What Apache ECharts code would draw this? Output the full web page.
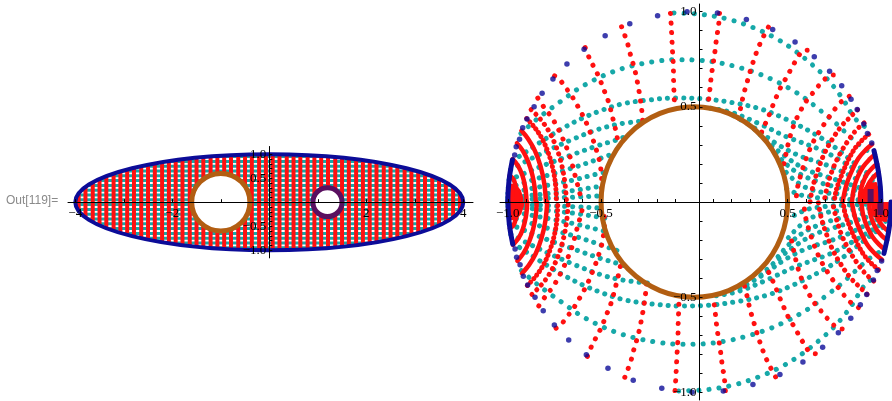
<!DOCTYPE html>
<html><head><meta charset="utf-8">
<script src="https://cdn.jsdelivr.net/npm/echarts@6/dist/echarts.min.js"></script>
<style>html,body{margin:0;padding:0;background:#fff}#c{width:892px;height:401px}</style>
</head><body><div id="c"></div><script>
// ---------- LEFT PLOT (z-plane) ----------
const leftRedX = [-3.93,-3.79,-3.64,-3.5,-3.36,-3.21,-3.07,-2.93,-2.79,-2.64,-2.5,-2.36,-2.21,-2.07,-1.93,-1.79,-1.64,-1.5,-1.36,-1.21,-1.07,-0.93,-0.79,-0.64,-0.5,-0.36,-0.21,-0.07,0.07,0.21,0.36,0.5,0.64,0.79,0.93,1.07,1.21,1.36,1.5,1.64,1.79,1.93,2.07,2.21,2.36,2.5,2.64,2.79,2.93,3.07,3.21,3.36,3.5,3.64,3.79,3.93];
const leftTealY = [-0.95,-0.85,-0.75,-0.65,-0.55,-0.45,-0.35,-0.25,-0.15,-0.05,0.05,0.15,0.25,0.35,0.45,0.55,0.65,0.75,0.85,0.95];
const zEllipse = [0, 0, 4, 1];
const zHoles = [[-1, 0, 0.6], [1.2, 0, 0.3]];
const leftXTicks = [-4,-3,-2,-1,1,2,3,4];
const leftXLabels = [-4,-2,2,4];
const leftYTicks = [-1,-0.9,-0.8,-0.7,-0.6,-0.5,-0.4,-0.3,-0.2,-0.1,0.1,0.2,0.3,0.4,0.5,0.6,0.7,0.8,0.9,1];
const leftYLabels = [-1,-0.5,0.5,1];

// ---------- RIGHT PLOT (w-plane), upper half; lower half is drawn mirrored ----------
const wBrown = [0, 0, 0.5];
const rightTicks = [-1,-0.9,-0.8,-0.7,-0.6,-0.5,-0.4,-0.3,-0.2,-0.1,0.1,0.2,0.3,0.4,0.5,0.6,0.7,0.8,0.9,1];
const rightLabels = [-1,-0.5,0.5,1];

const tealSparse = [
  [[-0.109,0.992],[0.038,0.985],[0.184,0.959],[0.317,0.915],[0.438,0.859],[0.540,0.794],[0.628,0.724],[0.701,0.658],[0.758,0.592],[0.805,0.527],[0.847,0.457],[0.88,0.42],[0.915,0.395]],
  [[-0.93,0.36],[-0.85,0.43],[-0.77,0.49],[-0.701,0.539],[-0.626,0.592],[-0.540,0.639],[-0.444,0.681],[-0.336,0.714],[-0.221,0.736],[-0.103,0.747],[0.015,0.745],[0.137,0.730],[0.248,0.704],[0.351,0.671],[0.445,0.630],[0.529,0.585],[0.6,0.539],[0.67,0.485],[0.74,0.43],[0.8,0.375],[0.86,0.32],[0.91,0.28],[0.965,0.25]]
];
const tealMedium = [
  [[-0.975,0.215],[-0.9,0.265],[-0.78,0.343],[-0.7,0.39],[-0.6,0.44],[-0.5,0.48],[-0.391,0.514],[-0.25,0.535],[-0.097,0.546],[0.057,0.541],[0.207,0.521],[0.35,0.49],[0.48,0.44],[0.638,0.361],[0.75,0.29],[0.85,0.21],[0.93,0.15],[0.985,0.12]],
  [[-0.985,0.17],[-0.9,0.215],[-0.78,0.273],[-0.65,0.33],[-0.52,0.38],[-0.4,0.41],[-0.27,0.425]],
  [[-0.993,0.115],[-0.9,0.155],[-0.78,0.203],[-0.65,0.25],[-0.52,0.295],[-0.42,0.325],[-0.36,0.347]],
  [[-0.997,0.075],[-0.9,0.105],[-0.78,0.142],[-0.65,0.18],[-0.53,0.22],[-0.43,0.255]],
  [[-0.999,0.045],[-0.9,0.065],[-0.78,0.089],[-0.65,0.115],[-0.55,0.14],[-0.475,0.157]],
  [[-1,0.022],[-0.9,0.032],[-0.78,0.045],[-0.65,0.06],[-0.55,0.075],[-0.493,0.085]],
  [[-1,0.008],[-0.9,0.013],[-0.78,0.02],[-0.65,0.025],[-0.55,0.03],[-0.499,0.032]],
  [[0.087,0.492],[0.2,0.47],[0.35,0.41],[0.5,0.34],[0.68,0.273],[0.78,0.22],[0.88,0.16],[0.95,0.115],[0.99,0.09]],
  [[0.211,0.453],[0.32,0.39],[0.45,0.3],[0.57,0.24],[0.68,0.205],[0.78,0.165],[0.87,0.12],[0.94,0.085],[0.985,0.06]],
  [[0.321,0.383],[0.4,0.31],[0.5,0.23],[0.6,0.17],[0.68,0.142],[0.78,0.11],[0.87,0.08],[0.94,0.055],[0.98,0.04]],
  [[0.41,0.287],[0.48,0.21],[0.56,0.15],[0.68,0.1],[0.78,0.075],[0.88,0.058],[0.945,0.05]],
  [[0.464,0.187],[0.53,0.12],[0.6,0.075],[0.68,0.052],[0.78,0.042],[0.88,0.035],[0.94,0.03]],
  [[0.495,0.07],[0.56,0.04],[0.62,0.028],[0.68,0.021],[0.8,0.015],[0.94,0.01]]
];
const redSparse = [
  [[-0.128,0.99],[-0.125,0.946],[-0.121,0.873],[-0.118,0.808],[-0.114,0.744],[-0.112,0.686],[-0.111,0.627],[-0.109,0.574],[-0.107,0.521],[-0.105,0.49]],
  [[-0.39,0.92],[-0.359,0.836],[-0.343,0.775],[-0.326,0.718],[-0.312,0.663],[-0.302,0.611],[-0.293,0.562],[-0.286,0.514],[-0.28,0.465],[-0.276,0.417]],
  [[-0.585,0.81],[-0.561,0.751],[-0.535,0.702],[-0.511,0.655],[-0.492,0.607],[-0.474,0.562],[-0.458,0.52],[-0.445,0.47],[-0.432,0.42],[-0.42,0.37],[-0.41,0.32],[-0.405,0.293]],
  [[-0.749,0.662],[-0.72,0.64],[-0.692,0.602],[-0.662,0.565],[-0.64,0.527],[-0.615,0.486],[-0.592,0.442],[-0.571,0.398],[-0.554,0.354],[-0.537,0.31],[-0.523,0.266],[-0.51,0.222],[-0.502,0.178],[-0.497,0.134],[-0.497,0.09],[-0.5,0.04]],
  [[0.135,0.99],[0.130,0.928],[0.119,0.859],[0.111,0.794],[0.102,0.733],[0.093,0.675],[0.086,0.619],[0.081,0.568],[0.074,0.52],[0.07,0.495]],
  [[0.397,0.918],[0.363,0.854],[0.338,0.798],[0.317,0.740],[0.300,0.688],[0.285,0.637],[0.270,0.586],[0.258,0.539],[0.245,0.48],[0.235,0.441]],
  [[0.605,0.796],[0.582,0.794],[0.549,0.749],[0.520,0.702],[0.499,0.661],[0.471,0.618],[0.450,0.574],[0.432,0.534],[0.41,0.48],[0.39,0.43],[0.37,0.39],[0.355,0.352]],
  [[0.745,0.667],[0.72,0.663],[0.687,0.631],[0.657,0.6],[0.629,0.565],[0.603,0.534],[0.57,0.48],[0.54,0.42],[0.515,0.35],[0.495,0.27],[0.48,0.2],[0.47,0.17]],
  [[-0.839,0.545],[-0.798,0.486],[-0.763,0.442],[-0.711,0.345],[-0.667,0.239],[-0.638,0.134],[-0.615,0.05],[-0.605,0]],
  [[0.83,0.555],[0.814,0.542],[0.784,0.523],[0.74,0.47],[0.69,0.4],[0.64,0.32],[0.6,0.23],[0.57,0.14],[0.552,0.07],[0.545,0]]
];
const redMedium = [
  [[-0.875,0.485],[-0.83,0.44],[-0.785,0.38],[-0.745,0.3],[-0.715,0.21],[-0.695,0.11],[-0.685,0]],
  [[0.875,0.484],[0.84,0.45],[0.79,0.4],[0.74,0.33],[0.695,0.25],[0.66,0.16],[0.635,0.08],[0.62,0]],
  [[0.91,0.415],[0.87,0.38],[0.83,0.33],[0.785,0.26],[0.745,0.18],[0.715,0.09],[0.695,0]]
];
const redDense = [
  [[-0.899,0.438],[-0.855,0.39],[-0.815,0.33],[-0.78,0.25],[-0.755,0.16],[-0.743,0.08],[-0.74,0]],
  [[0.935,0.355],[0.9,0.325],[0.86,0.28],[0.82,0.21],[0.785,0.13],[0.76,0.06],[0.75,0]]
];
const redSolid = [
  [[-0.927,0.375],[-0.89,0.33],[-0.855,0.27],[-0.825,0.19],[-0.805,0.1],[-0.795,0]],
  [[-0.951,0.309],[-0.92,0.27],[-0.89,0.21],[-0.868,0.14],[-0.855,0.07],[-0.85,0]],
  [[-0.974,0.225],[-0.945,0.19],[-0.922,0.14],[-0.907,0.08],[-0.901,0.03],[-0.9,0]],
  [[-0.99,0.139],[-0.97,0.12],[-0.957,0.08],[-0.951,0.04],[-0.95,0]],
  [[0.953,0.303],[0.92,0.275],[0.88,0.23],[0.845,0.165],[0.815,0.09],[0.795,0]],
  [[0.968,0.25],[0.94,0.225],[0.905,0.185],[0.875,0.13],[0.855,0.07],[0.845,0]],
  [[0.98,0.2],[0.955,0.18],[0.925,0.145],[0.903,0.1],[0.89,0.05],[0.887,0]],
  [[0.988,0.155],[0.965,0.135],[0.94,0.105],[0.924,0.07],[0.917,0.035],[0.916,0]]
];
const redFill = [
  [[-0.99,0],[-0.99,0.09],[-0.96,0.09],[-0.935,0.06],[-0.922,0.02],[-0.922,0]],
  [[0.9,0],[0.905,0.06],[0.93,0.095],[0.975,0.1],[0.985,0.05],[0.985,0]]
];
const blueDots = [[-0.039,0.999],[-0.197,0.978],[-0.346,0.936],[-0.478,0.873],[-0.591,0.802],[-0.683,0.724],[-0.758,0.646],[-0.816,0.571],[-0.859,0.5],[-0.897,0.436],[-0.92,0.39],[-0.937,0.329],[-0.955,0.29],[-0.963,0.247],
  [0.124,0.992],[0.279,0.958],[0.420,0.906],[0.540,0.84],[0.643,0.763],[0.725,0.686],[0.790,0.61],[0.840,0.54],[0.873,0.486],[0.908,0.41],[0.928,0.36],[0.951,0.31]];
const blueSolid = [
  [[-0.975,0.222],[-0.99,0.14],[-0.998,0.06],[-1,0]],
  [[0.963,0.27],[0.985,0.17],[0.997,0.08],[1,0]]
];
const purpleSlit = [[0.945,0],[0.945,0.068]];

// ---------- styling / rendering ----------
const RED = '#ff1010', TEAL = '#16a8a8', BLUE = '#0c0c98', BROWN = '#b25e12', PURPLE = '#5a1060';
const SERIF = '"Liberation Serif","DejaVu Serif",serif';
const minus = s => String(s).replace('-', '\u2212');

const G = [
  { left: 68, top: 146.5, width: 405, height: 111.4, xr: [-4.15, 4.2], yr: [-1.16, 1.16] },
  { left: 500, top: 4, width: 392, height: 396, xr: [-1.0418, 1.0052], yr: [-1.0394, 1.0394] }
];
// pixel offsets that move each axis from the grid edge onto the zero line of the other axis
function zeroOffsets(g) {
  const x0 = g.left + g.width * (0 - g.xr[0]) / (g.xr[1] - g.xr[0]);
  const y0 = g.top + g.height * (g.yr[1] - 0) / (g.yr[1] - g.yr[0]);
  return { xOff: -(g.top + g.height - y0), yOff: -(x0 - g.left) };
}

function ellipsePath(cx, cy, rx, ry, sweep) {
  return 'M' + (cx - rx) + ' ' + cy + ' A' + rx + ' ' + ry + ' 0 1 ' + sweep + ' ' + (cx + rx) + ' ' + cy +
         ' A' + rx + ' ' + ry + ' 0 1 ' + sweep + ' ' + (cx - rx) + ' ' + cy + ' Z';
}

function axisPair(gi, xTicks, xLabs, yTicks, yLabs, xFmt, yFmt) {
  const g = G[gi], off = zeroOffsets(g);
  const common = { type: 'value', gridIndex: gi, z: 10, splitLine: { show: false },
    axisLine: { show: true, onZero: false, lineStyle: { color: '#000', width: 1 } } };
  return [
    Object.assign({}, common, { min: g.xr[0], max: g.xr[1], position: 'bottom', offset: off.xOff,
      axisTick: { show: true, inside: true, length: 3, customValues: xTicks, lineStyle: { color: '#000' } },
      axisLabel: { customValues: xLabs, formatter: xFmt, fontFamily: SERIF, fontSize: 13, color: '#000', margin: 5 } }),
    Object.assign({}, common, { min: g.yr[0], max: g.yr[1], position: 'left', offset: off.yOff,
      axisTick: { show: true, inside: true, length: 3, customValues: yTicks, lineStyle: { color: '#000' } },
      axisLabel: { customValues: yLabs, formatter: yFmt, fontFamily: SERIF, fontSize: 13, color: '#000', margin: 3 } })
  ];
}

const L = axisPair(0, leftXTicks, leftXLabels, leftYTicks, leftYLabels,
  v => minus(Math.round(v)), v => minus(v.toFixed(1)));
const R = axisPair(1, rightTicks, rightLabels, rightTicks, rightLabels,
  v => minus(v.toFixed(1)), v => minus(v.toFixed(1)));
const hiddenX = { type: 'value', gridIndex: 2, min: G[1].xr[0], max: G[1].xr[1], show: false };
const hiddenY = { type: 'value', gridIndex: 2, min: G[1].yr[0], max: G[1].yr[1], inverse: true, show: false };

const series = [];

// left: teal horizontal lines
series.push({ type: 'custom', xAxisIndex: 0, yAxisIndex: 0, z: 1, silent: true,
  data: leftTealY.map(y => [0, y]),
  renderItem: (p, api) => {
    const y = api.value(1), a = api.coord([-4.1, y]), b = api.coord([4.1, y]);
    return { type: 'line', shape: { x1: a[0], y1: a[1], x2: b[0], y2: b[1] }, style: { stroke: TEAL, lineWidth: 3 } };
  } });
// left: red vertical lines
series.push({ type: 'custom', xAxisIndex: 0, yAxisIndex: 0, z: 2, silent: true,
  data: leftRedX.map(x => [x, 0]),
  renderItem: (p, api) => {
    const x = api.value(0), a = api.coord([x, -1.05]), b = api.coord([x, 1.05]);
    return { type: 'line', shape: { x1: a[0], y1: a[1], x2: b[0], y2: b[1] }, style: { stroke: RED, lineWidth: 4 } };
  } });
// left: mask outside ellipse + ellipse border
series.push({ type: 'custom', xAxisIndex: 0, yAxisIndex: 0, z: 3, silent: true,
  data: [[zEllipse[0], zEllipse[1]]],
  renderItem: (p, api) => {
    const cs = p.coordSys, c = api.coord([zEllipse[0], zEllipse[1]]);
    const rx = api.size([zEllipse[2], 0])[0], ry = api.size([0, zEllipse[3]])[1];
    const x0 = cs.x, y0 = cs.y, x1 = cs.x + cs.width, y1 = cs.y + cs.height;
    const mask = 'M' + x0 + ' ' + y0 + ' L' + x1 + ' ' + y0 + ' L' + x1 + ' ' + y1 + ' L' + x0 + ' ' + y1 + ' Z ' +
                 ellipsePath(c[0], c[1], rx, ry, 0);
    return { type: 'group', children: [
      { type: 'path', shape: { pathData: mask }, style: { fill: '#fff', stroke: null } },
      { type: 'path', shape: { pathData: ellipsePath(c[0], c[1], rx, ry, 1) },
        style: { fill: null, stroke: BLUE, lineWidth: 4 } }
    ] };
  } });
// left: holes
series.push({ type: 'custom', xAxisIndex: 0, yAxisIndex: 0, z: 5, silent: true,
  data: zHoles,
  renderItem: (p, api) => {
    const c = api.coord([api.value(0), api.value(1)]), r = api.value(2);
    const rx = api.size([r, 0])[0], ry = api.size([0, r])[1];
    return { type: 'path', shape: { pathData: ellipsePath(c[0], c[1], rx, ry, 1) },
      style: { fill: '#fff', stroke: p.dataIndex === 0 ? BROWN : PURPLE, lineWidth: 5 } };
  } });

// right: curves, drawn twice (grid 1 normal, grid 2 mirrored through inverse y axis)
function addCurves(list, color, width, dash, z) {
  [1, 2].forEach(g => list.forEach(d => series.push({
    type: 'line', xAxisIndex: g, yAxisIndex: g, data: d, smooth: 0.35, symbol: 'none', silent: true, z: z,
    lineStyle: { color: color, width: width, type: dash, cap: 'round', join: 'round' }
  })));
}
addCurves(tealSparse, TEAL, 5, [0.1, 10], 2);
addCurves(tealMedium, TEAL, 5, [0.1, 8], 2);
addCurves(redSparse, RED, 5, [0.1, 9.5], 3);
addCurves(redMedium, RED, 5, [0.1, 6.5], 3);
addCurves(redDense, RED, 5, [0.1, 4.5], 3);
addCurves(redSolid, RED, 4.5, 'solid', 3);
[1, 2].forEach(g => {
  redFill.forEach(d => series.push({ type: 'line', xAxisIndex: g, yAxisIndex: g, data: d, symbol: 'none', silent: true, z: 3,
    lineStyle: { color: RED, width: 2 }, areaStyle: { color: RED, opacity: 1, origin: 0 } }));
  series.push({ type: 'scatter', xAxisIndex: g, yAxisIndex: g, data: blueDots, symbolSize: 5.5, silent: true, z: 4,
    itemStyle: { color: BLUE } });
  blueSolid.forEach(d => series.push({ type: 'line', xAxisIndex: g, yAxisIndex: g, data: d, smooth: 0.3, symbol: 'none', silent: true, z: 4,
    lineStyle: { color: BLUE, width: 5, cap: 'round' } }));
  series.push({ type: 'line', xAxisIndex: g, yAxisIndex: g, data: purpleSlit, symbol: 'none', silent: true, z: 6,
    lineStyle: { color: PURPLE, width: 6 } });
});
series.push({ type: 'custom', xAxisIndex: 1, yAxisIndex: 1, z: 6, silent: true,
  data: [wBrown],
  renderItem: (p, api) => {
    const c = api.coord([api.value(0), api.value(1)]), r = api.value(2);
    const rx = api.size([r, 0])[0], ry = api.size([0, r])[1];
    return { type: 'path', shape: { pathData: ellipsePath(c[0], c[1], rx, ry, 1) },
      style: { fill: null, stroke: BROWN, lineWidth: 5 } };
  } });

const chart = echarts.init(document.getElementById('c'), null, { renderer: 'canvas', width: 892, height: 401 });
chart.setOption({
  animation: false,
  backgroundColor: '#fff',
  grid: [
    { left: G[0].left, top: G[0].top, width: G[0].width, height: G[0].height },
    { left: G[1].left, top: G[1].top, width: G[1].width, height: G[1].height },
    { left: G[1].left, top: G[1].top, width: G[1].width, height: G[1].height }
  ],
  xAxis: [L[0], R[0], hiddenX],
  yAxis: [L[1], R[1], hiddenY],
  graphic: [{ type: 'text', left: 6, top: 195, style: { text: 'Out[119]=', fill: '#8a8a8a', font: '12px "Liberation Sans", Arial, sans-serif' } }],
  series: series
});
</script></body></html>
